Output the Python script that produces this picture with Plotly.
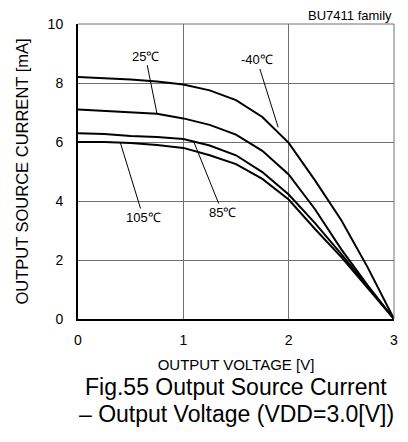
import plotly.graph_objects as go

voltage = [0, 0.25, 0.5, 0.75, 1.0, 1.25, 1.5, 1.75, 2.0, 2.25, 2.5, 2.75, 3.0]
i_m40 = [8.2, 8.17, 8.12, 8.05, 7.95, 7.75, 7.42, 6.85, 5.97, 4.7, 3.35, 1.75, 0]
i_25 = [7.1, 7.06, 7.0, 6.96, 6.8, 6.58, 6.25, 5.7, 4.9, 3.72, 2.36, 1.14, 0]
i_85 = [6.3, 6.27, 6.2, 6.17, 6.1, 5.88, 5.55, 4.98, 4.22, 3.25, 2.2, 1.1, 0]
i_105 = [6.0, 6.0, 5.97, 5.9, 5.8, 5.55, 5.25, 4.75, 4.05, 3.05, 2.1, 1.05, 0]

series = [("-40℃", i_m40), ("25℃", i_25), ("85℃", i_85), ("105℃", i_105)]

# label text, label position, point on the curve
labels = [
    ("25℃", 0.64, 8.91, 0.75, 6.96),
    ("-40℃", 1.70, 8.78, 1.90, 6.5),
    ("105℃", 0.62, 3.44, 0.40, 6.0),
    ("85℃", 1.37, 3.61, 1.10, 6.0),
]

FONT = "Liberation Sans, Arial, sans-serif"

fig = go.Figure()
for name, cur in series:
    fig.add_trace(go.Scatter(x=voltage, y=cur, mode="lines", name=name,
                             line=dict(color="black", width=2)))

for text, lx, ly, px, py in labels:
    fig.add_annotation(x=px, y=py, ax=lx, ay=ly, axref="x", ayref="y",
                       text=text, showarrow=True, arrowhead=0, arrowwidth=1,
                       arrowcolor="black", standoff=0,
                       font=dict(size=13, color="black", family=FONT))

fig.add_annotation(x=1, y=1, xref="paper", yref="paper", xanchor="right",
                   yanchor="middle", yshift=9, text="BU7411 family",
                   showarrow=False, font=dict(size=13, color="black", family=FONT))
fig.add_annotation(x=0.5, y=0, xref="paper", yref="paper", yanchor="middle",
                   yshift=-68, text="Fig.55 Output Source Current",
                   showarrow=False, font=dict(size=23, color="black", family=FONT))
fig.add_annotation(x=0.5, y=0, xref="paper", yref="paper", yanchor="middle",
                   yshift=-95, text="– Output Voltage (VDD=3.0[V])",
                   showarrow=False, font=dict(size=23, color="black", family=FONT))

# grey top and right frame lines
fig.add_shape(type="line", xref="paper", yref="paper", x0=0, x1=1, y0=1, y1=1,
              line=dict(color="#707070", width=1))
fig.add_shape(type="line", xref="paper", yref="paper", x0=1, x1=1, y0=0, y1=1,
              line=dict(color="#707070", width=1))

fig.update_xaxes(range=[0, 3], dtick=1, showgrid=True, gridcolor="#707070",
                 gridwidth=1, zeroline=False, showline=True, linecolor="black",
                 linewidth=2, ticks="", ticklabelstandoff=7, automargin=False,
                 tickfont=dict(size=14, color="black", family=FONT),
                 title=dict(text="OUTPUT VOLTAGE [V]", standoff=13,
                            font=dict(size=15, color="black", family=FONT)))
fig.update_yaxes(range=[0, 10], dtick=2, showgrid=True, gridcolor="#707070",
                 gridwidth=1, zeroline=False, showline=True, linecolor="black",
                 linewidth=2, ticks="", ticklabelstandoff=10, automargin=False,
                 tickfont=dict(size=14, color="black", family=FONT),
                 title=dict(text="OUTPUT SOURCE CURRENT [mA]", standoff=15,
                            font=dict(size=16.5, color="black", family=FONT)))

fig.update_layout(width=408, height=442, showlegend=False,
                  plot_bgcolor="white", paper_bgcolor="white",
                  margin=dict(l=78, r=14, t=24, b=123),
                  font=dict(family=FONT, color="black"))

fig.write_html("out.html", config={"displayModeBar": False},
               post_script="document.body.style.margin='0';")
